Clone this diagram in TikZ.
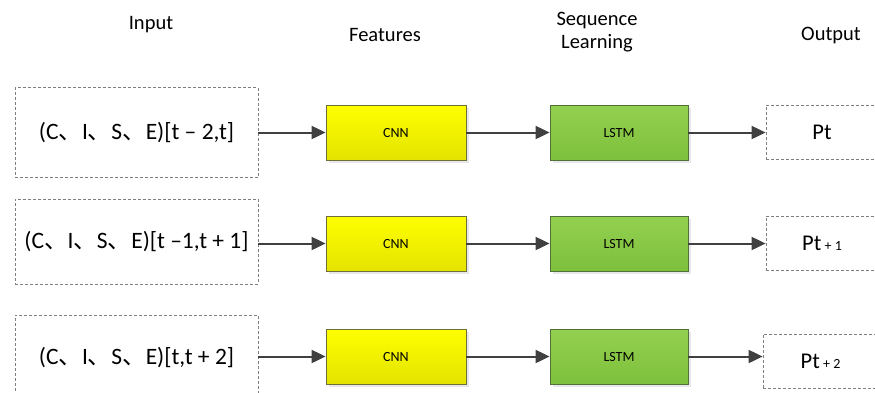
\documentclass[tikz,border=0pt]{standalone}
\usepackage{fontspec}
\setmainfont{Carlito}
\newfontfamily\cjk{Noto Sans CJK SC}
\usepackage{tikz}
\usetikzlibrary{
    arrows.meta,
    shadows,
    positioning
}
\definecolor{arrowgray}{HTML}{404040}
\definecolor{dashgray}{HTML}{7F7F7F}
\definecolor{cnntop}{HTML}{FFFF00}
\definecolor{cnnbot}{HTML}{E3E300}
\definecolor{cnnline}{HTML}{6F6F3A}
\definecolor{lstmtop}{HTML}{94D050}
\definecolor{lstmbot}{HTML}{7DC03C}
\definecolor{lstmline}{HTML}{52703A}
\newcommand{\dun}{{\cjk 、}}
\newcommand{\smallidx}[1]{{\fontsize{14}{14}\selectfont\ #1}}
\tikzset{
    head/.style={font=\fontsize{20.5}{23}\selectfont, align=center},
    inbox/.style={draw=dashgray, dash pattern=on 3pt off 2pt, line width=0.8pt,
        minimum width=243pt, font=\fontsize{23.5}{25}\selectfont},
    outbox/.style={draw=dashgray, dash pattern=on 3pt off 2pt, line width=0.8pt,
        minimum height=54pt, font=\fontsize{22.5}{24}\selectfont},
    cnnbox/.style={draw=cnnline, line width=0.8pt, top color=cnntop, bottom color=cnnbot,
        minimum width=140pt, minimum height=55pt, font=\fontsize{14}{14}\selectfont,
        drop shadow={opacity=0.18, shadow xshift=2.5pt, shadow yshift=-2.5pt}},
    lstmbox/.style={draw=lstmline, line width=0.8pt, top color=lstmtop, bottom color=lstmbot,
        minimum width=138pt, minimum height=55pt, font=\fontsize{14}{14}\selectfont,
        drop shadow={opacity=0.18, shadow xshift=2.5pt, shadow yshift=-2.5pt}},
    arr/.style={draw=arrowgray, line width=2pt, -{Triangle[length=14pt, width=13pt]}}
}
\begin{document}
\begin{tikzpicture}[x=1pt, y=-1pt]
    \useasboundingbox (0, 0) rectangle (875, 392);
    \clip (0, 0) rectangle (875, 392);
    % column titles
    \node[head] (hin) at (151, 25) {Input};
    \node[head] (hfeat) at (385, 35) {Features};
    \node[head] (hseq) at (597, 32) {Sequence\\Learning};
    \node[head] (hout) at (831, 35) {Output};
    % row 1
    \node[inbox, minimum height=90pt] (in1) at (136.5, 132.5)
        {(C\dun I\dun S\dun E)[t – 2,t]};
    \node[cnnbox] (cnn1) at (396, 132.5) {CNN};
    \node[lstmbox] (lstm1) at (619, 132.5) {LSTM};
    \node[outbox, minimum width=112pt] (out1) at (822, 132) {Pt};
    % row 2
    \node[inbox, minimum height=85pt] (in2) at (136.5, 241.5)
        {(C\dun I\dun S\dun E)[t –1,t + 1]};
    \node[cnnbox] (cnn2) at (396, 243.5) {CNN};
    \node[lstmbox] (lstm2) at (619, 243.5) {LSTM};
    \node[outbox, minimum width=112pt] (out2) at (822, 243) {Pt\smallidx{+ 1}};
    % row 3
    \node[inbox, minimum height=86pt] (in3) at (136.5, 358)
        {(C\dun I\dun S\dun E)[t,t + 2]};
    \node[cnnbox] (cnn3) at (396, 356.5) {CNN};
    \node[lstmbox] (lstm3) at (619, 356.5) {LSTM};
    \node[outbox, minimum width=115pt] (out3) at (820.5, 361) {Pt\smallidx{+ 2}};
    % connectors
    \draw[arr] (in1.east |- cnn1) -- (cnn1.west);
    \draw[arr] (cnn1) -- (lstm1);
    \draw[arr] (lstm1.east) -- (lstm1 -| out1.west);
    \draw[arr] (in2.east |- cnn2) -- (cnn2.west);
    \draw[arr] (cnn2) -- (lstm2);
    \draw[arr] (lstm2.east) -- (lstm2 -| out2.west);
    \draw[arr] (in3.east |- cnn3) -- (cnn3.west);
    \draw[arr] (cnn3) -- (lstm3);
    \draw[arr] (lstm3.east) -- (lstm3 -| out3.west);
\end{tikzpicture}
\end{document}
